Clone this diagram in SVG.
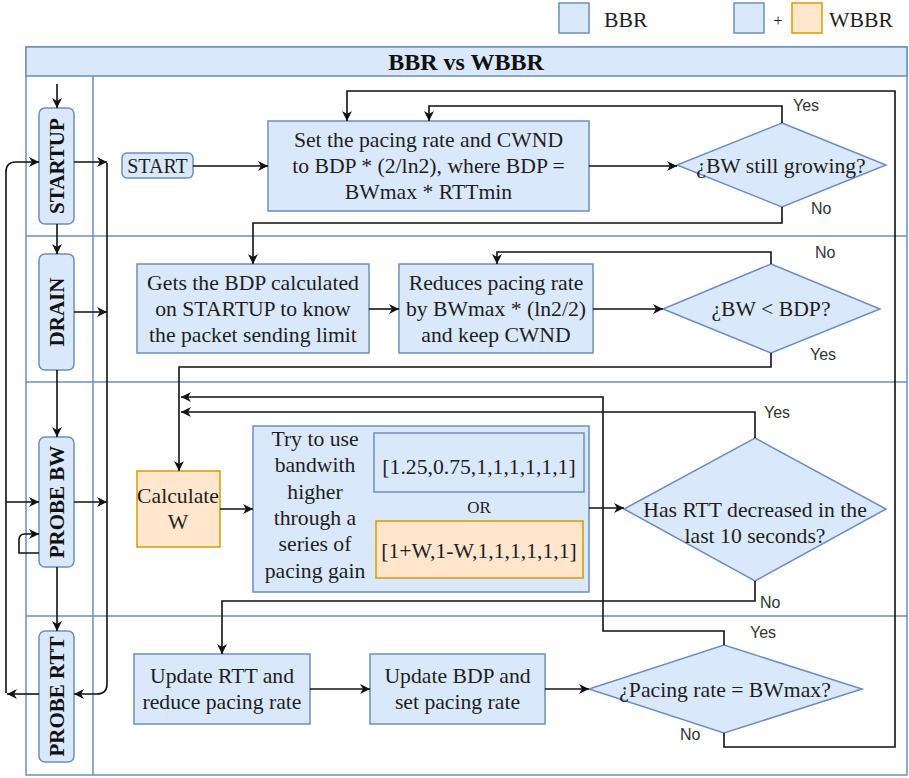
<svg xmlns="http://www.w3.org/2000/svg" width="909" height="778" viewBox="0 0 909 778">
<style>
.blue{fill:#dae8fc;stroke:#6c8ebf;stroke-width:1.5}
.orange{fill:#ffe6cc;stroke:#d79b00;stroke-width:1.5}
.frame{fill:none;stroke:#6c8ebf;stroke-width:1.5}
.t{font-family:"Liberation Serif","Times New Roman",serif;font-size:21.7px;fill:#1e1e1e;text-anchor:middle}
.lane{font-family:"Liberation Serif","Times New Roman",serif;font-size:21px;font-weight:bold;fill:#111;text-anchor:middle}
.lbl{font-family:"Liberation Sans",Arial,sans-serif;font-size:16px;fill:#333}
.e{fill:none;stroke:#111;stroke-width:1.6}
</style>
<defs>
<marker id="ah" viewBox="0 0 10 10" refX="10" refY="5" markerWidth="11" markerHeight="10" markerUnits="userSpaceOnUse" orient="auto">
<path d="M0,0 L10,5 L0,10 L3,5 z" fill="#111"/>
</marker>
</defs>
<rect width="909" height="778" fill="#fff"/>
<g id="legend">
<rect x="559" y="3" width="30" height="30" class="blue"/>
<text x="604" y="27" class="t" style="text-anchor:start">BBR</text>
<rect x="734" y="3" width="30" height="30" class="blue"/>
<text x="778" y="26" class="t" style="font-size:17px">+</text>
<rect x="792" y="3" width="30" height="30" class="orange"/>
<text x="829" y="27" class="t" style="text-anchor:start">WBBR</text>
</g>
<g id="pool">
<rect x="26" y="47" width="881" height="728" class="frame"/>
<rect x="26" y="47" width="881" height="29" class="blue"/>
<text x="466" y="70" class="lane" style="font-size:24px">BBR vs WBBR</text>
<line x1="93" y1="76" x2="93" y2="775" class="frame"/>
<line x1="26" y1="236" x2="907" y2="236" class="frame"/>
<line x1="26" y1="382" x2="907" y2="382" class="frame"/>
<line x1="26" y1="616" x2="907" y2="616" class="frame"/>
</g>
<g id="lane-startup">
<rect x="39" y="108" width="35" height="116" rx="6" class="blue"/>
<text x="56.5" y="166" dy="7" transform="rotate(-90 56.5 166)" class="lane">STARTUP</text>
</g>
<g id="lane-drain">
<rect x="39" y="254" width="35" height="116" rx="6" class="blue"/>
<text x="56.5" y="312" dy="7" transform="rotate(-90 56.5 312)" class="lane">DRAIN</text>
</g>
<g id="lane-probebw">
<rect x="39" y="437" width="35" height="130" rx="6" class="blue"/>
<text x="56.5" y="502" dy="7" transform="rotate(-90 56.5 502)" class="lane">PROBE BW</text>
</g>
<g id="lane-probertt">
<rect x="39" y="631" width="35" height="131" rx="6" class="blue"/>
<text x="56.5" y="696.5" dy="7" transform="rotate(-90 56.5 696.5)" class="lane">PROBE RTT</text>
</g>
<g id="start">
<rect x="122" y="153" width="71" height="25" rx="5" class="blue"/>
<text x="157.5" y="173" class="t" style="font-size:20px">START</text>
</g>
<g id="set-pacing">
<rect x="268" y="121" width="321" height="90" class="blue"/>
<text class="t"><tspan x="428.5" y="147">Set the pacing rate and CWND</tspan><tspan x="428.5" y="173">to BDP * (2/ln2), where BDP =</tspan><tspan x="428.5" y="199">BWmax * RTTmin</tspan></text>
</g>
<g id="bw-growing">
<polygon points="782,123 886,165 782,207 677,165" class="blue"/>
<text x="781" y="173" class="t">¿BW still growing?</text>
</g>
<g id="gets-bdp">
<rect x="137" y="264" width="232" height="89" class="blue"/>
<text class="t"><tspan x="253" y="290">Gets the BDP calculated</tspan><tspan x="253" y="316">on STARTUP to know</tspan><tspan x="253" y="342">the packet sending limit</tspan></text>
</g>
<g id="reduces">
<rect x="399" y="264" width="194" height="89" class="blue"/>
<text class="t"><tspan x="496" y="290">Reduces pacing rate</tspan><tspan x="496" y="316">by BWmax * (ln2/2)</tspan><tspan x="496" y="342">and keep CWND</tspan></text>
</g>
<g id="bw-lt-bdp">
<polygon points="771,264 880,309 771,353 663,309" class="blue"/>
<text x="771" y="316" class="t">¿BW &lt; BDP?</text>
</g>
<g id="calc-w">
<rect x="137" y="471" width="83" height="76" class="orange"/>
<text class="t"><tspan x="178" y="503">Calculate</tspan><tspan x="178" y="529">W</tspan></text>
</g>
<g id="pacing-gain">
<rect x="253" y="426" width="336" height="166" class="blue"/>
<text class="t"><tspan x="315" y="446">Try to use</tspan><tspan x="315" y="472">bandwith</tspan><tspan x="315" y="498.5">higher</tspan><tspan x="315" y="525">through a</tspan><tspan x="315" y="551">series of</tspan><tspan x="315" y="577.5">pacing gain</tspan></text>
<rect x="374" y="433" width="210" height="59" class="blue"/>
<text x="479" y="474" class="t">[1.25,0.75,1,1,1,1,1,1]</text>
<text x="479" y="513" class="t" style="font-size:17px">OR</text>
<rect x="376" y="521" width="207" height="57" class="orange"/>
<text x="479" y="558" class="t">[1+W,1-W,1,1,1,1,1,1]</text>
</g>
<g id="rtt-decreased">
<polygon points="755,438 886,509 755,581 624,509" class="blue"/>
<text class="t"><tspan x="755" y="517">Has RTT decreased in the</tspan><tspan x="755" y="543">last 10 seconds?</tspan></text>
</g>
<g id="update-rtt">
<rect x="134" y="654" width="176" height="70" class="blue"/>
<text class="t"><tspan x="222" y="683">Update RTT and</tspan><tspan x="222" y="709">reduce pacing rate</tspan></text>
</g>
<g id="update-bdp">
<rect x="370" y="654" width="175" height="70" class="blue"/>
<text class="t"><tspan x="457.5" y="683">Update BDP and</tspan><tspan x="457.5" y="709">set pacing rate</tspan></text>
</g>
<g id="pacing-bwmax">
<polygon points="724,645 862,689 724,733 589,689" class="blue"/>
<text x="725" y="697" class="t">¿Pacing rate = BWmax?</text>
</g>
<g id="connectors">
<path d="M57,84 V108" class="e" marker-end="url(#ah)"/>
<path d="M57,224 V254" class="e" marker-end="url(#ah)"/>
<path d="M57,370 V437" class="e" marker-end="url(#ah)"/>
<path d="M57,567 V631" class="e" marker-end="url(#ah)"/>
<path d="M39,694 H7" class="e" marker-end="url(#ah)"/>
<path d="M6,693 V172 Q6,162 16,162 H39" class="e" marker-end="url(#ah)"/>
<path d="M6,502 H39" class="e" marker-end="url(#ah)"/>
<path d="M39,553 H19 V540 Q19,534 25,534 H39" class="e" marker-end="url(#ah)"/>
<path d="M74,162 H107" class="e" marker-end="url(#ah)"/>
<path d="M107,163 V684 Q107,694 97,694 H74" class="e" marker-end="url(#ah)"/>
<path d="M74,312 H107" class="e" marker-end="url(#ah)"/>
<path d="M74,502 H107" class="e" marker-end="url(#ah)"/>
<path d="M193,166 H268" class="e" marker-end="url(#ah)"/>
<path d="M589,166 H677" class="e" marker-end="url(#ah)"/>
<path d="M782,123 V106 H429 V121" class="e" marker-end="url(#ah)"/>
<path d="M782,207 V223 H253 V264" class="e" marker-end="url(#ah)"/>
<path d="M369,309 H399" class="e" marker-end="url(#ah)"/>
<path d="M593,309 H663" class="e" marker-end="url(#ah)"/>
<path d="M771,264 V252 H497 V264" class="e" marker-end="url(#ah)"/>
<path d="M771,353 V367 H179 V471" class="e" marker-end="url(#ah)"/>
<path d="M220,509 H253" class="e" marker-end="url(#ah)"/>
<path d="M589,508 H624" class="e" marker-end="url(#ah)"/>
<path d="M755,438 V412 H181" class="e" marker-end="url(#ah)"/>
<path d="M755,581 V601 H222 V654" class="e" marker-end="url(#ah)"/>
<path d="M310,689 H370" class="e" marker-end="url(#ah)"/>
<path d="M545,689 H589" class="e" marker-end="url(#ah)"/>
<path d="M724,645 V631 H603 V397 H181" class="e" marker-end="url(#ah)"/>
<path d="M724,733 V747 H895 V91 H347 V121" class="e" marker-end="url(#ah)"/>
</g>
<g id="edge-labels" class="lbl">
<text x="793" y="111">Yes</text>
<text x="811" y="214">No</text>
<text x="815" y="258">No</text>
<text x="810" y="360">Yes</text>
<text x="764" y="418">Yes</text>
<text x="760" y="608">No</text>
<text x="750" y="638">Yes</text>
<text x="680" y="740">No</text>
</g>
</svg>
